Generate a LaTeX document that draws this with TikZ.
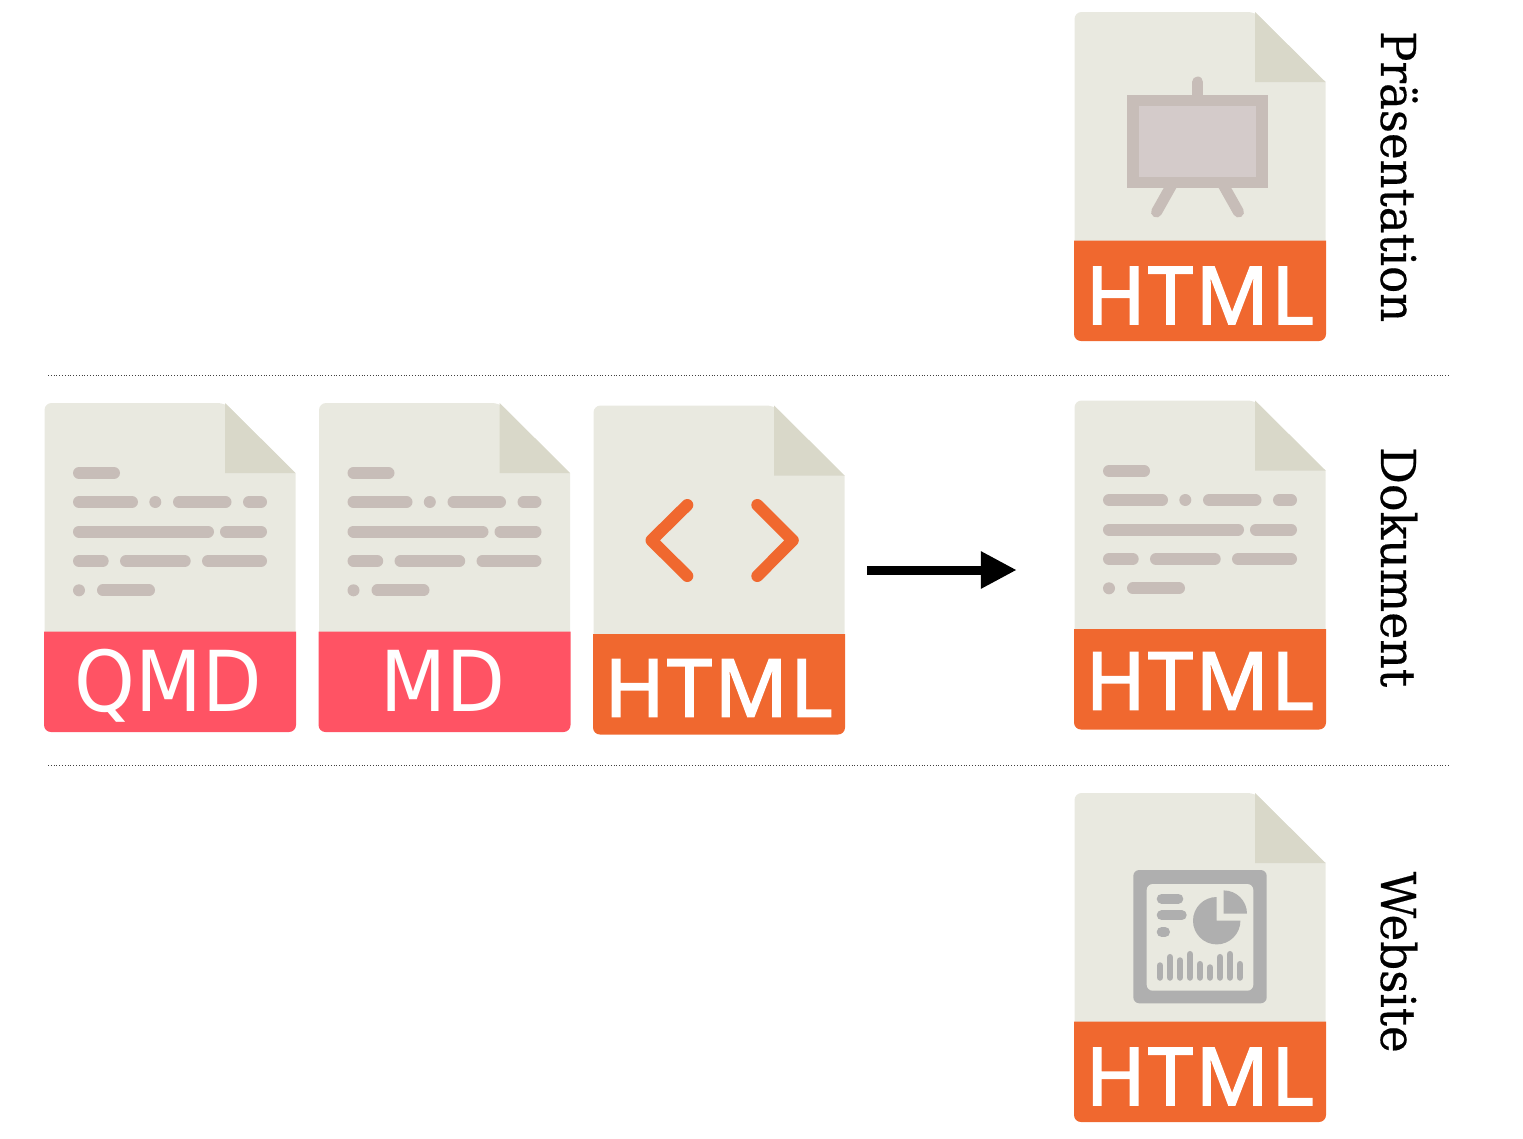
\documentclass[tikz,border=0pt]{standalone}
\usepackage{fontspec}
\usetikzlibrary{arrows.meta}
\newfontfamily\htmlfont[FakeBold=2,LetterSpace=3]{Noto Sans}
\newfontfamily\mdfont{DejaVu Sans}
\newfontfamily\labelfont[FakeBold=0.4]{DejaVu Serif}
\definecolor{paper}{HTML}{E9E9E0}
\definecolor{foldc}{HTML}{D9D8C9}
\definecolor{redband}{HTML}{FF5364}
\definecolor{orangeband}{HTML}{F0682F}
\definecolor{pillc}{HTML}{C7BDB8}
\definecolor{screenc}{HTML}{D4CBCA}
\definecolor{dashc}{HTML}{AFAFAF}
\tikzset{
  x=1pt,y=-1pt,
  pill/.style={pillc,line width=12pt,line cap=round},
  pilldot/.style={fill=pillc,draw=none},
  bandtext/.style={inner sep=0pt,text=white},
  sidelabel/.style={inner sep=0pt,rotate=-90,anchor=base west,text=black},
  codemark/.style={orangeband,line width=12pt,line cap=round,line join=round},
  dashbar/.style={dashc,line width=6.7pt,line cap=round},
  easel/.style={pillc,line width=11pt,line cap=round},
  divider/.style={black!75,line width=0.8pt,dotted},
}
\newcommand{\fileicon}[4]{%
  \begin{scope}[shift={(#2,#3)}]
    \node[inner sep=0pt,minimum width=252pt,minimum height=329pt] (#1) at (126,164.5) {};
    \fill[paper] (0.5,229) [rounded corners=7pt] -- (0.5,0) -- (181,0) [sharp corners] -- (251.5,70) -- (251.5,229) -- cycle;
    \fill[foldc] (181,0) -- (251.5,70) -- (181,70) -- cycle;
    \fill[#4] (0,228.5) [rounded corners=7pt] -- (0,329) -- (252,329) [sharp corners] -- (252,228.5) -- cycle;
  \end{scope}}
\newcommand{\doclines}[2]{%
  \begin{scope}[shift={(#1,#2)}]
    \draw[pill] (35,70) -- (70,70);
    \draw[pill] (35,99) -- (88,99);
    \fill[pilldot] (111.3,99) circle (6);
    \draw[pill] (135,99) -- (181.5,99);
    \draw[pill] (205,99) -- (217,99);
    \draw[pill] (35,128.5) -- (164,128.5);
    \draw[pill] (182,128.5) -- (217,128.5);
    \draw[pill] (35,158) -- (58.7,158);
    \draw[pill] (82,158) -- (140.7,158);
    \draw[pill] (164,158) -- (217,158);
    \fill[pilldot] (35,187.3) circle (6);
    \draw[pill] (59,187.3) -- (105,187.3);
  \end{scope}}
\newcommand{\htmltext}[3]{%
  \node[bandtext,anchor=base west] (#1) at (#2,#3) {\resizebox{228pt}{\height}{\htmlfont\fontsize{80pt}{80pt}\selectfont HTML}};}
\begin{document}
\begin{tikzpicture}
\useasboundingbox (0,0) rectangle (1523,1138);

% source files
\fileicon{qmdfile}{44}{403}{redband}
\doclines{44}{403}
\node[bandtext,anchor=base] (qmdtext) at (168,711) {\scalebox{.92}[1]{\mdfont\fontsize{84pt}{84pt}\selectfont QMD}};

\fileicon{mdfile}{318.5}{403}{redband}
\doclines{318.5}{403}
\node[bandtext,anchor=base] (mdtext) at (442.5,711) {\scalebox{.91}[1]{\mdfont\fontsize{84pt}{84pt}\selectfont MD}};

\fileicon{srcfile}{593}{405.5}{orangeband}
\draw[codemark] (687.3,505) -- (651.5,540.3) -- (687.3,576);
\draw[codemark] (757.3,505) -- (792.8,540.3) -- (757.3,576);
\htmltext{srctext}{604.5}{716.5}

% presentation
\fileicon{presfile}{1074}{12}{orangeband}
\draw[easel] (1197.7,82) -- (1197.7,100);
\draw[easel] (1171.7,185) -- (1156.5,212);
\draw[easel] (1223.3,185) -- (1238.5,212);
\fill[pillc] (1127.3,94.7) rectangle (1267.7,188.3);
\fill[screenc] (1138.7,106) rectangle (1256,176.7);
\htmltext{prestext}{1085.5}{324}
\node[sidelabel] (preslabel) at (1381,31) {\resizebox{291pt}{\height}{\labelfont\fontsize{48pt}{48pt}\selectfont Präsentation}};

% document
\fileicon{docfile}{1074}{400.5}{orangeband}
\doclines{1074}{401}
\htmltext{doctext}{1085.5}{709.5}
\node[sidelabel] (doclabel) at (1381,447) {\resizebox{240pt}{\height}{\labelfont\fontsize{48pt}{48pt}\selectfont Dokument}};

% website
\fileicon{webfile}{1074}{793}{orangeband}
\fill[dashc,rounded corners=6pt] (1133.3,870) rectangle (1266.7,1003.3);
\fill[paper,rounded corners=6pt] (1146.7,884) rectangle (1253.3,990.7);
\draw[dashc,line width=10pt,line cap=round] (1161.7,898.7) -- (1178.3,898.7);
\draw[dashc,line width=10pt,line cap=round] (1161.7,915.3) -- (1181.7,915.3);
\draw[dashc,line width=10pt,line cap=round] (1161.7,932) -- (1165,932);
\fill[dashc] (1216.7,920.7) -- (1216.7,897) arc[start angle=-90,delta angle=-270,radius=23.7] -- cycle;
\fill[dashc] (1223.7,913.7) -- (1223.7,890.4) arc[start angle=-90,delta angle=90,radius=23.3] -- cycle;
\draw[dashbar] (1160,965.6) -- (1160,977.4);
\draw[dashbar] (1170,957.3) -- (1170,977.4);
\draw[dashbar] (1180,960.6) -- (1180,977.4);
\draw[dashbar] (1190,954.3) -- (1190,977.4);
\draw[dashbar] (1200,964.3) -- (1200,977.4);
\draw[dashbar] (1210,967.6) -- (1210,977.4);
\draw[dashbar] (1220,957.3) -- (1220,977.4);
\draw[dashbar] (1230,954.3) -- (1230,977.4);
\draw[dashbar] (1240,964.3) -- (1240,977.4);
\htmltext{webtext}{1085.5}{1105}
\node[sidelabel] (weblabel) at (1381,871.5) {\resizebox{181pt}{\height}{\labelfont\fontsize{48pt}{48pt}\selectfont Website}};

% dividers
\coordinate (divatop) at (48,375.5);
\coordinate (divbtop) at (1450,375.5);
\coordinate (divabot) at (48,765.5);
\coordinate (divbbot) at (1450,765.5);
\draw[divider] (divatop) -- (divbtop);
\draw[divider] (divabot) -- (divbbot);

% arrow
\draw[line width=9pt,-{Triangle[length=36pt,width=35pt]},shorten <=22pt,shorten >=57pt] (srcfile.east) -- (srcfile.east -| docfile.west);
\end{tikzpicture}
\end{document}
